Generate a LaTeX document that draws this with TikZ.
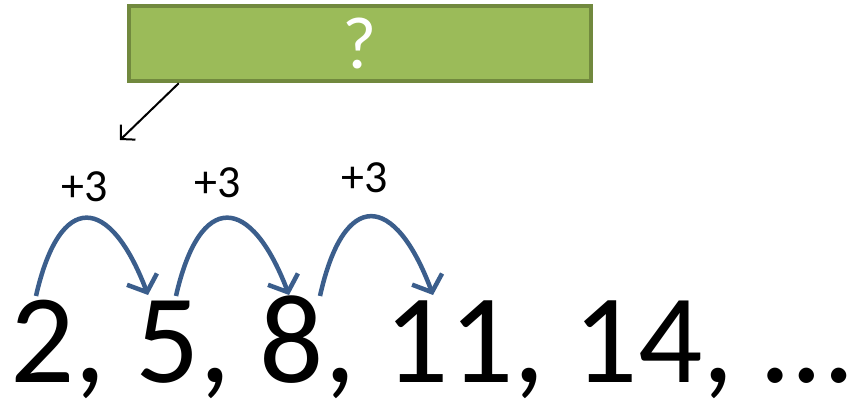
\documentclass[tikz,border=0pt]{standalone}
\usepackage{fontspec}
\setmainfont{Carlito}
\usetikzlibrary{arrows.meta, positioning}
\definecolor{boxfill}{RGB}{155,187,89}
\definecolor{boxline}{RGB}{113,137,62}
\definecolor{jump}{RGB}{59,94,140}

\tikzset{
  hop/.style={draw=jump, line width=4.5pt, -{Straight Barb[length=14pt, width=32pt, line width=4.5pt]}},
  steplabel/.style={font=\fontsize{46}{46}\selectfont, inner sep=0pt}
}

\begin{document}
\begin{tikzpicture}[x=1pt, y=-1pt]
  \useasboundingbox (0,0) rectangle (854,406);
  % the unknown rule
  \node[draw=boxline, fill=boxfill, line width=4.5pt, minimum width=462pt,
        minimum height=75pt, inner sep=0pt, text=white,
        font=\fontsize{74}{74}\selectfont] (rule) at (360,43.5) {?};
  \coordinate (pointer) at (120,140);
  \draw[line width=2pt, -{Straight Barb[length=10pt, width=21pt, line width=2pt]}]
    ([xshift=52pt]rule.south west) -- (pointer);
  % the sequence
  \node[anchor=base west, inner sep=0pt, font=\fontsize{127}{127}\selectfont]
    (seq) at (10,382) {2, 5, 8, 11, 14, …};
  % jumps of +3
  \coordinate (s1) at (36,296);  \coordinate (e1) at (148,295);
  \coordinate (s2) at (176,296); \coordinate (e2) at (289,295);
  \coordinate (s3) at (320,296); \coordinate (e3) at (433,295);
  \draw[hop] (s1) .. controls (60,190) and (110,195) .. (e1);
  \draw[hop] (s2) .. controls (200,190) and (251,195) .. (e2);
  \draw[hop] (s3) .. controls (344,188) and (395,193) .. (e3);
  \node[steplabel] (p1) at (85,187) {+3};
  \node[steplabel] (p2) at (218,183) {+3};
  \node[steplabel] (p3) at (365,178) {+3};
\end{tikzpicture}
\end{document}
